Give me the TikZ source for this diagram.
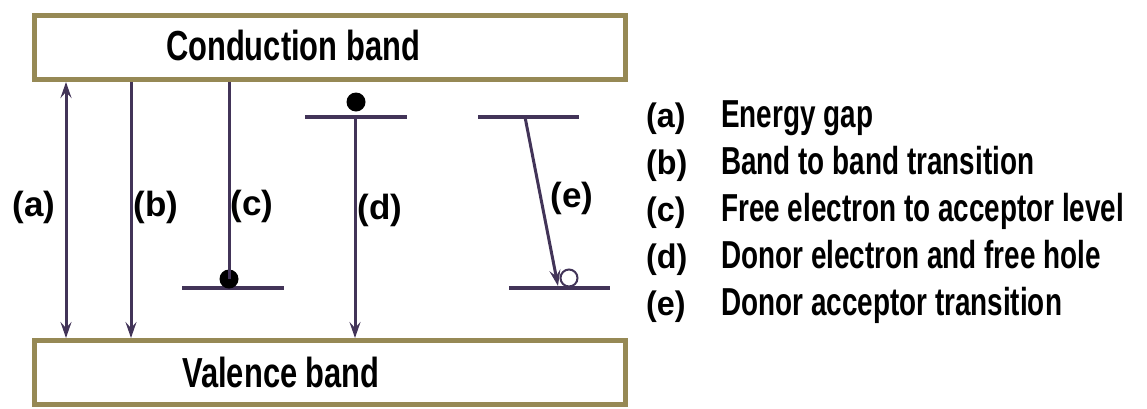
\documentclass[tikz,border=0pt]{standalone}
\usepackage{fontspec}
\setmainfont{Liberation Sans}[FakeStretch=0.715]
\newfontfamily\titlefont{Liberation Sans}[FakeStretch=0.735]
\newfontfamily\keyfont{Liberation Sans}[FakeStretch=0.95]
\newfontfamily\lblfont{Liberation Sans}[FakeStretch=1.0]
\usetikzlibrary{arrows.meta}
\definecolor{boxc}{RGB}{150,137,85}
\definecolor{arrc}{RGB}{66,52,88}
\begin{document}
\begin{tikzpicture}[x=1pt,y=-1pt,
  band/.style={draw=boxc,line width=5pt,minimum width=591pt,minimum height=64pt,inner sep=0pt},
  bandtext/.style={font=\titlefont\bfseries\fontsize{42}{42}\selectfont,inner sep=0pt},
  trans/.style={draw=arrc,line width=3pt},
  level/.style={draw=arrc,line width=4pt},
  tipe/.style={-{Stealth[length=16pt,width=11pt,inset=6pt]}},
  tipboth/.style={{Stealth[length=16pt,width=11pt,inset=6pt]}-{Stealth[length=16pt,width=11pt,inset=6pt]}},
  electron/.style={circle,fill=black,minimum size=19pt,inner sep=0pt},
  hole/.style={circle,draw=arrc,line width=2pt,fill=white,minimum size=17pt,inner sep=0pt},
  lbl/.style={font=\lblfont\bfseries\fontsize{35}{35}\selectfont,inner sep=0pt},
  key/.style={font=\keyfont\bfseries\fontsize{34}{34}\selectfont,inner sep=0pt,anchor=base west},
  leg/.style={font=\bfseries\fontsize{39}{39}\selectfont,inner sep=0pt,anchor=base west}
]
\useasboundingbox (0,0) rectangle (1147,408);
% bands
\node[band] (cb) at (330,47.5) {};
\node[band] (vb) at (330,372.5) {};
\node[bandtext] (cbt) at (293,45) {Conduction band};
\node[bandtext] (vbt) at (281,372) {Valence band};
% x positions
\coordinate (xa) at (66,0);
\coordinate (xb) at (131,0);
\coordinate (xc) at (229,0);
\coordinate (xd) at (355,0);
% levels
\coordinate (accCL) at (182,288);
\coordinate (accCR) at (284,288);
\coordinate (donDL) at (305,117);
\coordinate (donDR) at (407,117);
\coordinate (donEL) at (478,117);
\coordinate (donER) at (579,117);
\coordinate (accEL) at (509,288);
\coordinate (accER) at (610,288);
\draw[level] (accCL) -- (accCR);
\draw[level] (donDL) -- (donDR);
\draw[level] (donEL) -- (donER);
\draw[level] (accEL) -- (accER);
% carriers
\node[electron] (ec) at (229,279) {};
\node[electron] (ed) at (356,102) {};
\node[hole] (he) at (569,278) {};
% transitions
\coordinate (dtop) at (355,117);
\coordinate (etop) at (525,117);
\coordinate (ebot) at (558,286);
\draw[trans,tipboth] (cb.south -| xa) -- (vb.north -| xa);
\draw[trans,tipe] (cb.south -| xb) -- (vb.north -| xb);
\draw[trans] (cb.south -| xc) -- (ec.center);
\draw[trans,tipe] (dtop) -- (vb.north -| xd);
\draw[trans,tipe] (etop) -- (ebot);
% labels
\node[lbl] (la) at (34,207) {(a)};
\node[lbl] (lb) at (156,207) {(b)};
\node[lbl] (lc) at (252,206) {(c)};
\node[lbl] (ld) at (380,210) {(d)};
\node[lbl] (le) at (572,198) {(e)};
% legend
\node[key] (ka) at (646,127) {(a)};
\node[leg] (ta) at (721,127) {Energy gap};
\node[key] (kb) at (646,174) {(b)};
\node[leg] (tb) at (721,174) {Band to band transition};
\node[key] (kc) at (646,221) {(c)};
\node[leg] (tc) at (721,221) {Free electron to acceptor level};
\node[key] (kd) at (646,268) {(d)};
\node[leg] (td) at (721,268) {Donor electron and free hole};
\node[key] (ke) at (646,315) {(e)};
\node[leg] (te) at (721,315) {Donor acceptor transition};
\end{tikzpicture}
\end{document}
